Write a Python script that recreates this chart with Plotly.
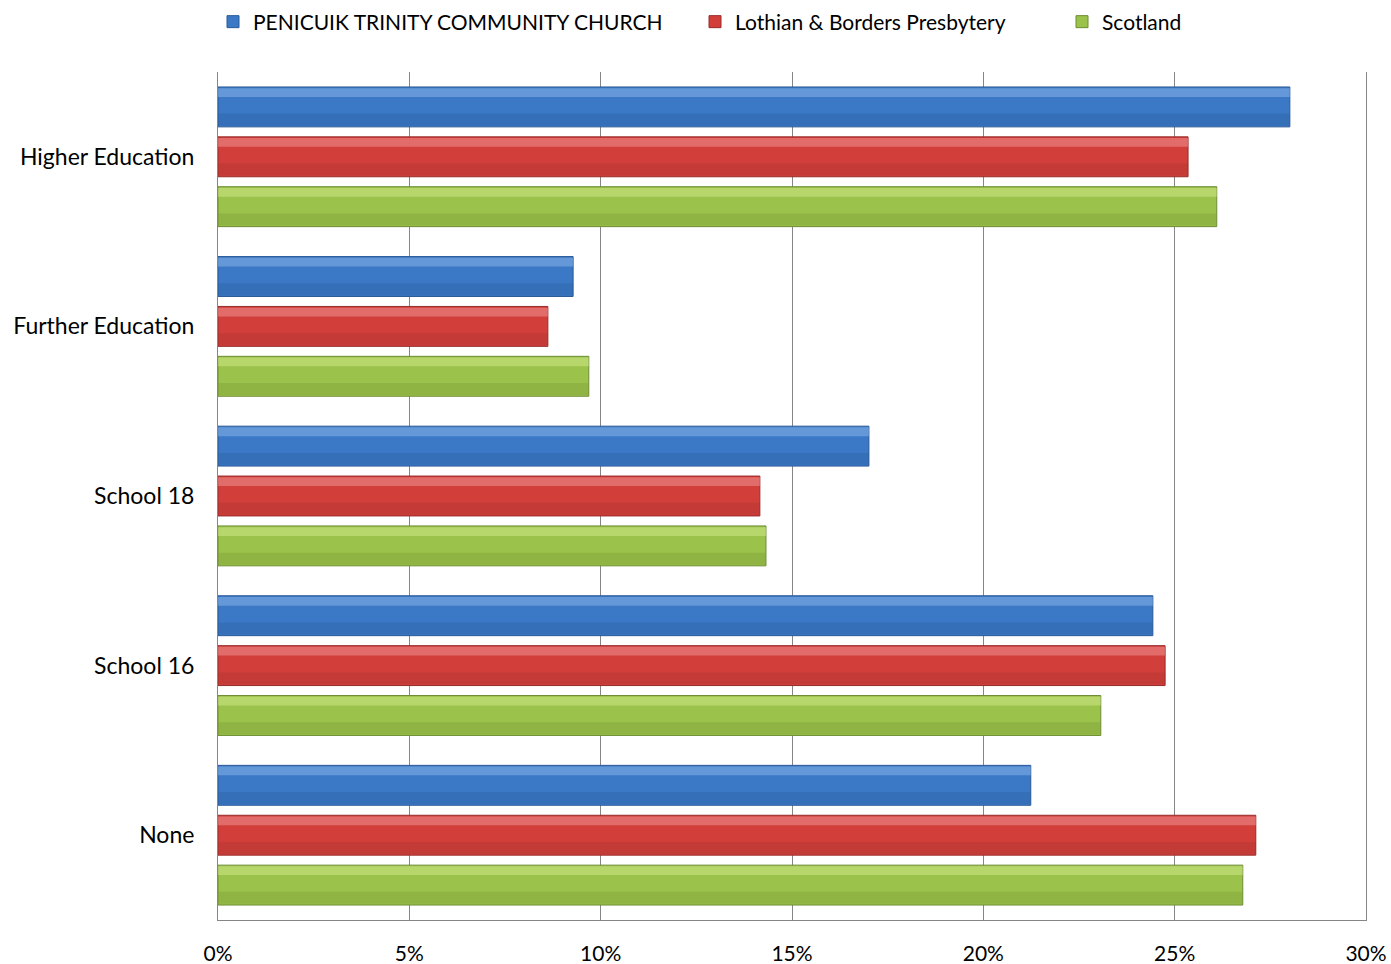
import plotly.graph_objects as go

categories = ["None", "School 16", "School 18", "Further Education", "Higher Education"]
series_names = ["PENICUIK TRINITY COMMUNITY CHURCH", "Lothian & Borders Presbytery", "Scotland"]
penicuik = [21.24, 24.43, 17.01, 9.28, 28.01]
lothian = [27.12, 24.75, 14.16, 8.62, 25.35]
scotland = [26.78, 23.07, 14.32, 9.69, 26.10]
x_ticks = [0, 5, 10, 15, 20, 25, 30]
x_tick_labels = ["0%", "5%", "10%", "15%", "20%", "25%", "30%"]

values = [penicuik, lothian, scotland]
fills = ["#3B78C6", "#D23F3B", "#9BC24A"]
lines = ["#2B5A96", "#962C2A", "#6E8C33"]
lights = ["#8DB8EA", "#F29A97", "#D3EB8F"]
darks = ["#2C5E9E", "#A8302D", "#789C36"]
legend_ids = ["legend", "legend2", "legend3"]

W, H = 1391, 964
bar_w = 40 / 170
centers = [50 / 170, 0.0, -50 / 170]

fig = go.Figure()
for name, vals, fc, lc, lt, dk, c, lg in zip(series_names, values, fills, lines, lights, darks, centers, legend_ids):
    fig.add_trace(go.Bar(
        y=categories, x=[v / 100 for v in vals], name=name, orientation="h",
        width=bar_w, offset=c - bar_w / 2, legend=lg,
        marker=dict(color=fc, line=dict(color=lc, width=1)),
    ))
    # lower shading band
    fig.add_trace(go.Bar(
        y=categories, x=[v / 100 for v in vals], orientation="h", showlegend=False,
        hoverinfo="skip", width=bar_w * 0.3, offset=c - bar_w / 2 + bar_w * 0.03,
        marker=dict(color=dk, opacity=0.35, line=dict(width=0)),
    ))
    # top highlight band
    fig.add_trace(go.Bar(
        y=categories, x=[v / 100 for v in vals], orientation="h", showlegend=False,
        hoverinfo="skip", width=bar_w * 0.22, offset=c + bar_w / 2 - bar_w * 0.25,
        marker=dict(color=lt, opacity=0.5, line=dict(width=0)),
    ))

leg_common = dict(orientation="h", xanchor="left", y=1 - 22 / H, yanchor="middle",
                  xref="container", yref="container", font=dict(size=21), itemwidth=30,
                  bgcolor="rgba(0,0,0,0)")

fig.update_layout(
    width=W, height=H,
    barmode="overlay",
    plot_bgcolor="white", paper_bgcolor="white",
    margin=dict(l=218, r=25, t=72, b=44),
    font=dict(family="Lato, Open Sans, sans-serif", size=21, color="#000000"),
    legend=dict(x=213 / W, **leg_common),
    legend2=dict(x=695 / W, **leg_common),
    legend3=dict(x=1062 / W, **leg_common),
    xaxis=dict(range=[0, 0.30], tickvals=[t / 100 for t in x_ticks], ticktext=x_tick_labels,
               showgrid=True, gridcolor="#868686", gridwidth=1,
               showline=True, linecolor="#868686", linewidth=1, mirror=False,
               zeroline=False, ticks="", ticklabelstandoff=15, automargin=False,
               tickfont=dict(size=21)),
    yaxis=dict(categoryorder="array", categoryarray=categories, range=[-0.5, 4.5],
               showgrid=False, showline=True, linecolor="#868686", linewidth=1,
               mirror=True, ticks="", ticklabelstandoff=18, zeroline=False,
               automargin=False, tickfont=dict(size=23)),
)

fig.write_html("out.html", config={"displayModeBar": False},
               post_script="document.body.style.margin='0';document.body.style.overflow='hidden';")
